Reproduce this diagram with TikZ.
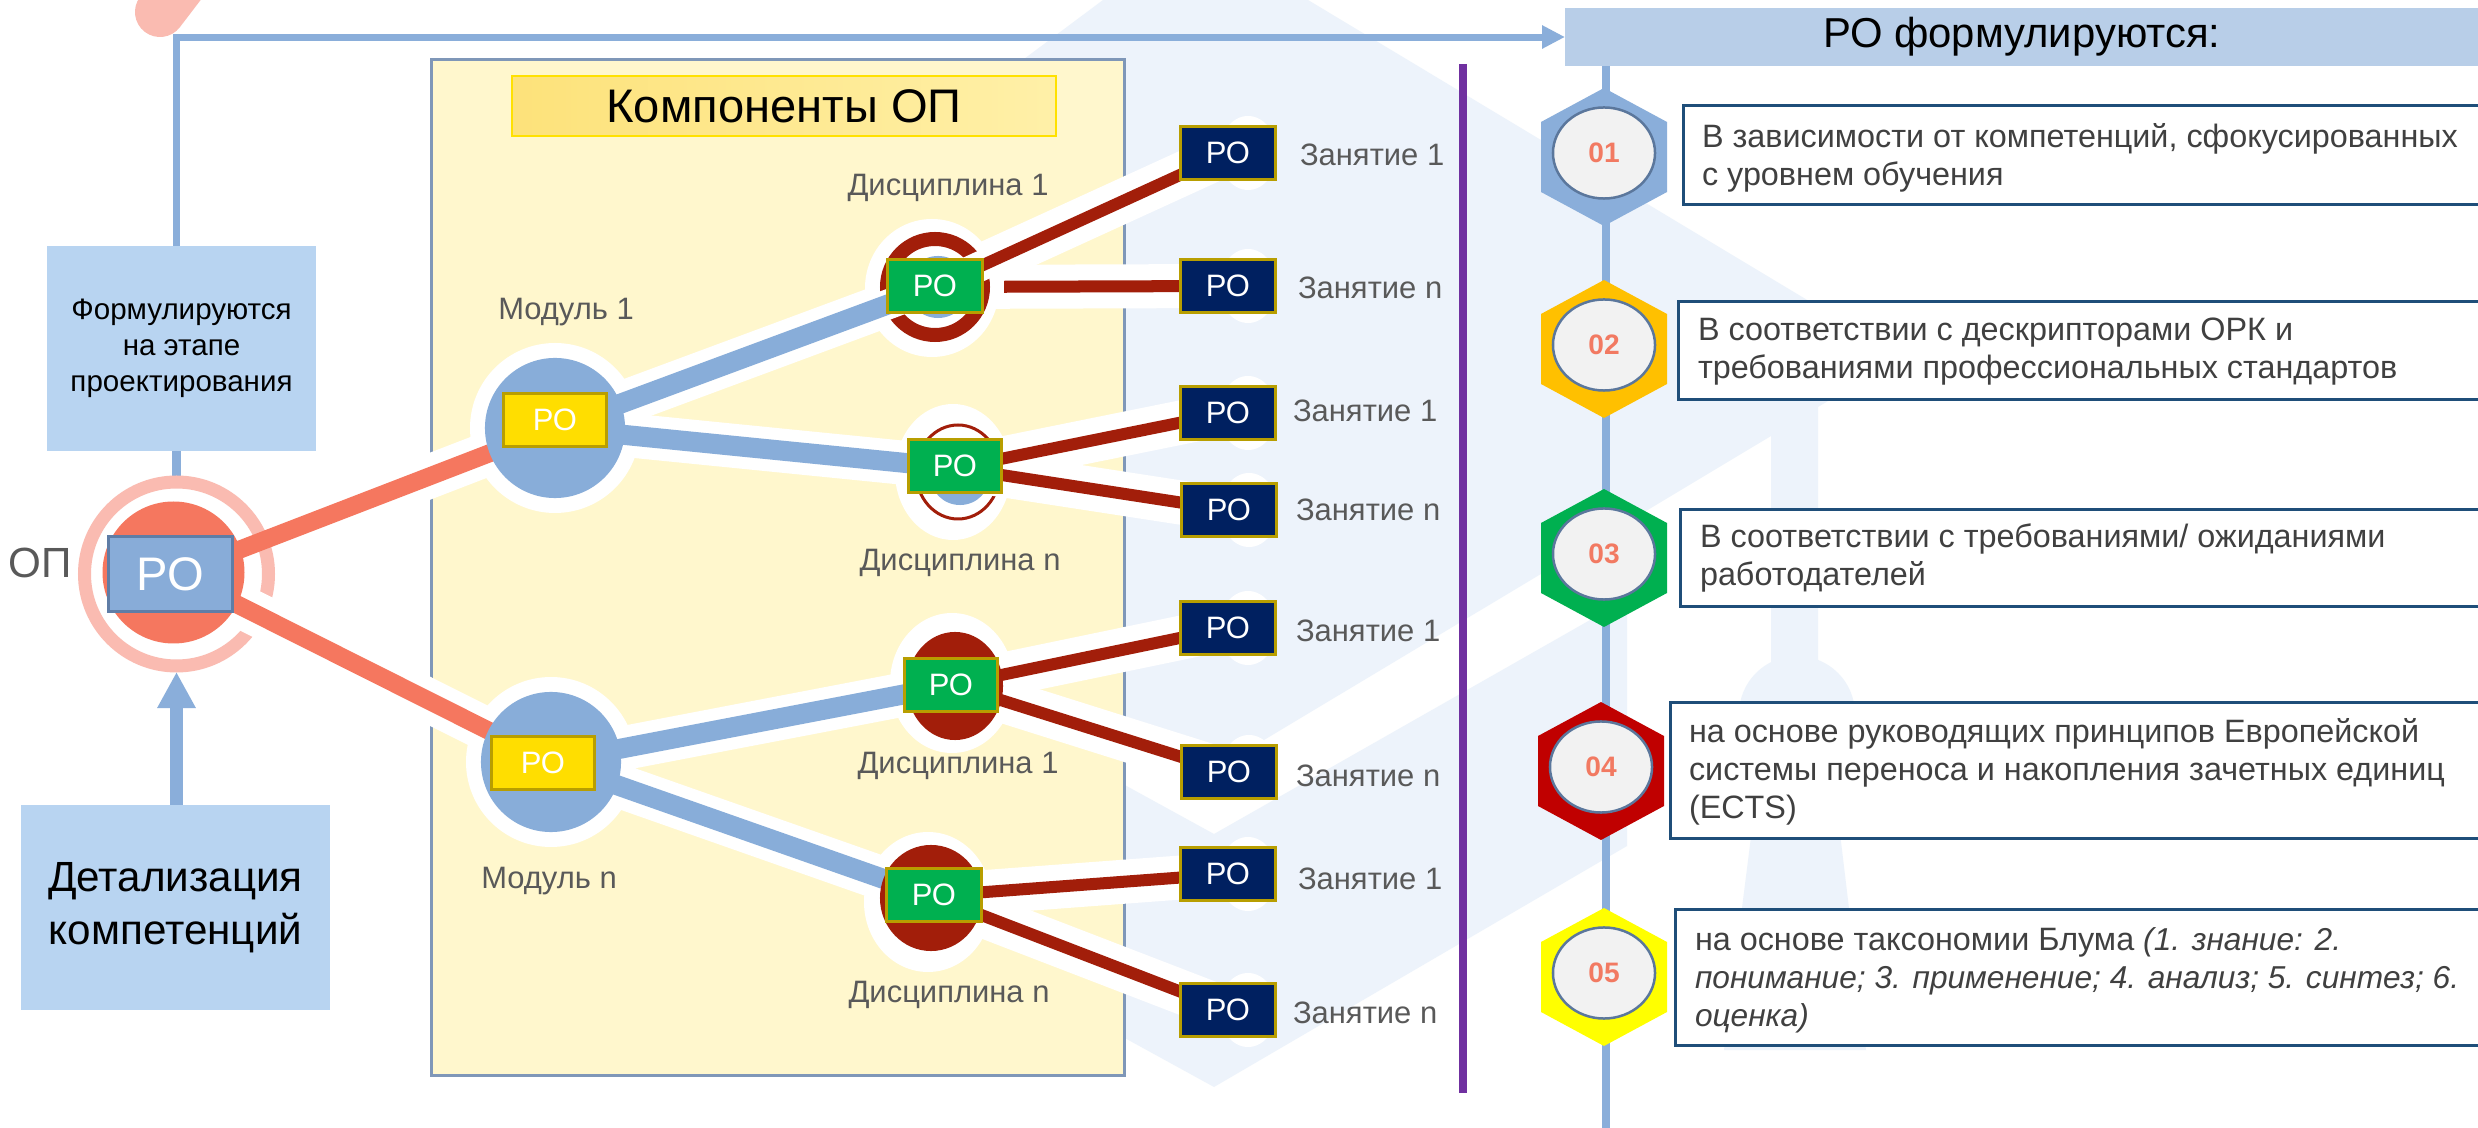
\documentclass[tikz,border=0pt]{standalone}
\usepackage{fontspec}
\setmainfont{Liberation Sans}
\usetikzlibrary{arrows.meta,shapes.geometric}
\definecolor{wm}{HTML}{EDF3FB}
\definecolor{lineblue}{HTML}{8AAEDA}
\definecolor{boxblue}{HTML}{B8D4F1}
\definecolor{hdrblue}{HTML}{B8CEE8}
\definecolor{salmon}{HTML}{F5775F}
\definecolor{pinkring}{HTML}{FABBB1}
\definecolor{modblue}{HTML}{88ADD9}
\definecolor{opbox}{HTML}{88ACD8}
\definecolor{opboxb}{HTML}{5F7DA6}
\definecolor{ylw}{HTML}{FFDE00}
\definecolor{gold}{HTML}{B89E00}
\definecolor{grn}{HTML}{00B050}
\definecolor{navy}{HTML}{002060}
\definecolor{dred}{HTML}{A21E0A}
\definecolor{contfill}{HTML}{FFF7CD}
\definecolor{contborder}{HTML}{7F97B8}
\definecolor{ttlA}{HTML}{FDE27A}
\definecolor{ttlB}{HTML}{FFF0A8}
\definecolor{ttlborder}{HTML}{FFE100}
\definecolor{purp}{HTML}{7030A0}
\definecolor{lbltext}{HTML}{595959}
\definecolor{txt}{HTML}{404040}
\definecolor{rbord}{HTML}{1F4E79}
\definecolor{circb}{HTML}{5B779C}
\definecolor{cfill}{HTML}{F2F2F2}
\definecolor{numcol}{HTML}{F27A62}
\definecolor{hexA}{HTML}{8AAEDA}
\definecolor{hexB}{HTML}{FFC000}
\definecolor{hexC}{HTML}{00B050}
\definecolor{hexD}{HTML}{C00000}
\definecolor{hexE}{HTML}{FFFF00}
\newcommand{\fsz}[2]{\fontsize{#1}{#2}\selectfont}
\newcommand{\hexshape}[2]{\fill[#2] (#1) ++(0,-69) -- ++(63,34) -- ++(0,70) -- ++(-63,34) -- ++(-63,-34) -- ++(0,-70) -- cycle;}
\newcommand{\itsmall}[1]{{\fsz{9.0pt}{10.8pt}\itshape #1}}
\begin{document}
\begin{tikzpicture}[x=0.01cm,y=-0.01cm,
  every node/.style={inner sep=0pt,outer sep=0pt},
  casing/.style={white,line width=0.44cm},
  narrowcasing/.style={white,line width=0.30cm},
  salline/.style={salmon,line width=0.18cm},
  blueline/.style={modblue,line width=0.20cm},
  redline/.style={dred,line width=0.12cm},
  robox/.style={draw=gold,line width=0.03cm,text=white,font=\fsz{8.8pt}{10pt},minimum width=0.94cm,minimum height=0.53cm},
  zbox/.style={robox,fill=navy},
  gbox/.style={robox,fill=grn,minimum height=0.52cm},
  ybox/.style={robox,fill=ylw,minimum width=1.02cm,minimum height=0.52cm},
  lbl/.style={text=lbltext,font=\fsz{8.8pt}{10pt}},
  zlbl/.style={lbl,anchor=west},
  rtxt/.style={text=txt,font=\fsz{9.2pt}{10.8pt},align=left,anchor=west},
  rbox/.style={draw=rbord,line width=0.03cm,fill=white,anchor=north west},
  numcirc/.style={ellipse,fill=cfill,draw=circb,line width=0.025cm,minimum width=1.02cm,minimum height=0.91cm,text=numcol,font=\bfseries\fsz{8pt}{9pt}},
  flow/.style={lineblue,line width=0.08cm}
]
\useasboundingbox (0,0) rectangle (2478,1128);
\fill[white] (0,0) rectangle (2478,1128);
% watermark
\fill[wm] (1103,0) -- (1308,0) -- (1902,357) -- (1818,407) -- (1818,690) -- (1771,690) -- (1771,436) -- (1214,770) -- (1050,680) -- (1050,75) -- (1020,62) -- cycle;
\fill[wm] (1797,714) circle[radius=58];
\fill[wm] (1762,750) -- (1830,750) -- (1866,1050) -- (1724,1050) -- cycle;
\fill[wm] (1050,744) -- (1214,834) -- (1627,599) -- (1627,846) -- (1214,1087) -- (1050,997) -- cycle;

% coordinates
\coordinate (opc) at (176.5,574);
\coordinate (optop) at (176.5,476);
\coordinate (opbot) at (176.5,672);
\coordinate (m1) at (555,428);
\coordinate (mn) at (551,762);
\coordinate (d11) at (935,287);
\coordinate (d1n) at (956,468);
\coordinate (dn1) at (953,685);
\coordinate (dnn) at (932,896);
\coordinate (z1) at (1228,153);
\coordinate (z2) at (1228,286);
\coordinate (z3) at (1228,413);
\coordinate (z4) at (1229,510);
\coordinate (z5) at (1228,628);
\coordinate (z6) at (1229,772);
\coordinate (z7) at (1228,874);
\coordinate (z8) at (1228,1010);

% container and title
\node[fill=contfill,draw=contborder,line width=0.03cm,minimum width=6.92cm,minimum height=10.15cm] (cont) at (778,567.5) {};
\node[draw=ttlborder,line width=0.02cm,left color=ttlA,right color=ttlB,minimum width=5.44cm,minimum height=0.60cm,font=\fsz{13.4pt}{16pt}] (ttl) at (784,106) {Компоненты ОП};

% top-left pink shape
\draw[pinkring,line width=0.5cm,line cap=round] (160,12) -- (215,-60);

% left boxes
\node[fill=boxblue,minimum width=2.69cm,minimum height=2.05cm,align=center,font=\fsz{8.4pt}{10.2pt}] (form) at (181.5,348.5) {Формулируются\\на этапе\\проектирования};
\node[fill=boxblue,minimum width=3.09cm,minimum height=2.05cm,align=center,font=\fsz{12pt}{15.1pt}] (det) at (175.5,907.5) {Детализация\\компетенций};

% header
\node[fill=hdrblue,minimum width=9.13cm,minimum height=0.58cm,anchor=north west,font=\fsz{11.9pt}{14pt}] (hdr) at (1565,8) {РО формулируются:};

% flow connectors
\draw[lineblue,line width=0.07cm,-{Triangle[length=0.23cm,width=0.22cm]}] (form.north -| opc) |- (hdr.west);
\draw[flow] (form.south -| opc) -- (optop);
\draw[lineblue,line width=0.12cm,-{Triangle[length=0.36cm,width=0.36cm]}] (det.north -| opc) -- (opbot);

% purple divider
\coordinate (pt) at (1463,64);
\coordinate (pb) at (1463,1093);
\draw[purp,line width=0.075cm] (pt) -- (pb);

% right column
\coordinate (vbot) at (1606,1140);
\draw[lineblue,line width=0.08cm] (hdr.south -| vbot) -- (vbot);
\coordinate (h1) at (1604,157);
\coordinate (h2) at (1604,349);
\coordinate (h3) at (1604,558);
\coordinate (h4) at (1601,771);
\coordinate (h5) at (1604,977);
\hexshape{h1}{hexA}
\hexshape{h2}{hexB}
\hexshape{h3}{hexC}
\hexshape{h4}{hexD}
\hexshape{h5}{hexE}
\node[numcirc] (c1) at (1604,153) {01};
\node[numcirc] (c2) at (1604,345) {02};
\node[numcirc] (c3) at (1604,554) {03};
\node[numcirc] (c4) at (1601,767) {04};
\node[numcirc] (c5) at (1604,973) {05};

\node[rbox,minimum width=8.07cm,minimum height=0.98cm] (b1) at (1683,106) {};
\node[rbox,minimum width=8.12cm,minimum height=0.97cm] (b2) at (1678,302) {};
\node[rbox,minimum width=8.10cm,minimum height=0.96cm] (b3) at (1680,510) {};
\node[rbox,minimum width=8.20cm,minimum height=1.35cm] (b4) at (1670,703) {};
\node[rbox,minimum width=8.15cm,minimum height=1.35cm] (b5) at (1675,910) {};
\node[rtxt] (t1) at (1702,158) {В зависимости от компетенций, сфокусированных\\с уровнем обучения};
\node[rtxt] (t2) at (1698,352) {В соответствии с дескрипторами ОРК и\\требованиями профессиональных стандартов};
\node[rtxt] (t3) at (1700,558) {В соответствии с требованиями/ ожиданиями\\работодателей};
\node[rtxt] (t4) at (1689,772) {на основе руководящих принципов Европейской\\системы переноса и накопления зачетных единиц\\(ECTS)};
\node[rtxt] (t5) at (1695,980) {на основе таксономии Блума \itsmall{(1. знание: 2.}\\\itsmall{понимание; 3. применение; 4. анализ; 5. синтез; 6.}\\\itsmall{оценка)}};

% halos
\foreach \z in {z1,z2,z3,z4,z5,z6,z7,z8}{\fill[white] ([xshift=0.20cm]\z) ellipse[x radius=29,y radius=37];}
\fill[white] (m1) circle[radius=85];
\fill[white] (mn) circle[radius=85];
\fill[white] (932,288) ellipse[x radius=67,y radius=69];
\fill[white] (953,472) ellipse[x radius=58,y radius=68];
\fill[white] (952,683) ellipse[x radius=62,y radius=70];
\fill[white] (928,902) ellipse[x radius=64,y radius=70];

% casing of upper OP line, then ring
\draw[casing] (opc) -- (m1);
\draw[pinkring,line width=0.13cm] (opc) circle[radius=92];
\draw[dred,line width=0.03cm] (958,472) ellipse[x radius=42,y radius=47];

% wide casings
\draw[casing] (opc) -- (mn);
\draw[casing] (m1) -- (d11);
\draw[casing] (m1) -- (d1n);
\draw[casing] (mn) -- (dn1);
\draw[casing] (mn) -- (dnn);
\draw[casing] (d11) -- (z1);
\draw[casing] (d11) -- (z2);
\draw[casing] (d1n) -- (z3);
\draw[casing] (d1n) -- (z4);
\draw[casing] (dn1) -- (z5);
\draw[casing] (dn1) -- (z6);
\draw[casing] (dnn) -- (z7);
\draw[casing] (dnn) -- (z8);

% ring of discipline 1 and narrow casings
\draw[dred,line width=0.14cm] (d11) circle[radius=48];
\draw[narrowcasing] (m1) -- (d11);
\draw[narrowcasing] (d11) -- (z1);

% coloured connectors
\draw[salline] (opc) -- (m1);
\draw[salline] (opc) -- (mn);
\draw[blueline] (m1) -- (d11);
\draw[blueline] (m1) -- (d1n);
\draw[blueline] (mn) -- (dn1);
\draw[blueline] (mn) -- (dnn);
\draw[redline] (d11) -- (z1);
\draw[redline,shorten <=0.69cm] (d11) -- (z2);
\draw[redline] (d1n) -- (z3);
\draw[redline] (d1n) -- (z4);
\draw[redline] (dn1) -- (z5);
\draw[redline] (dn1) -- (z6);
\draw[redline] (dnn) -- (z7);
\draw[redline] (dnn) -- (z8);

% circles
\fill[salmon] (173.5,572.5) circle[radius=71];
\node[circle,fill=modblue,minimum size=1.40cm] (m1c) at (m1) {};
\node[circle,fill=modblue,minimum size=1.40cm] (mnc) at (mn) {};
\node[circle,fill=modblue,minimum size=0.62cm] (d11c) at (938,287) {};
\node[circle,fill=modblue,minimum size=0.60cm] (d1nc) at (960,475) {};
\node[ellipse,fill=dred,minimum width=0.96cm,minimum height=1.08cm] (dn1c) at (955,686) {};
\node[ellipse,fill=dred,minimum width=1.02cm,minimum height=1.06cm] (dnnc) at (931,898) {};
\fill[dred] (1251,645) circle[radius=11];

% boxes
\node[draw=opboxb,line width=0.03cm,fill=opbox,minimum width=1.23cm,minimum height=0.74cm,text=white,font=\fsz{13.4pt}{16pt}] (opb) at (170.5,574) {РО};
\node[ybox] (y1) at (555,420) {РО};
\node[ybox] (y2) at (543,763) {РО};
\node[gbox,minimum width=0.95cm] (g1) at (935,286) {РО};
\node[gbox,minimum width=0.93cm] (g2) at (955,466) {РО};
\node[gbox,minimum width=0.93cm] (g3) at (951,685) {РО};
\node[gbox,minimum width=0.94cm] (g4) at (934,895) {РО};
\node[zbox] (zb1) at (z1) {РО};
\node[zbox] (zb2) at (z2) {РО};
\node[zbox] (zb3) at (z3) {РО};
\node[zbox] (zb4) at (z4) {РО};
\node[zbox] (zb5) at (z5) {РО};
\node[zbox] (zb6) at (z6) {РО};
\node[zbox] (zb7) at (z7) {РО};
\node[zbox] (zb8) at (z8) {РО};

% labels
\node[anchor=east,text=lbltext,font=\fsz{12pt}{14pt}] (opl) at (72,563) {ОП};
\node[lbl] (lm1) at (566,312) {Модуль 1};
\node[lbl] (lmn) at (549,881) {Модуль n};
\node[lbl] (ld11) at (948,188) {Дисциплина 1};
\node[lbl] (ld1n) at (960,563) {Дисциплина n};
\node[lbl] (ldn1) at (958,766) {Дисциплина 1};
\node[lbl] (ldnn) at (949,995) {Дисциплина n};
\node[zlbl] (lz1) at (1300,155) {Занятие 1};
\node[zlbl] (lz2) at (1298,288) {Занятие n};
\node[zlbl] (lz3) at (1293,411) {Занятие 1};
\node[zlbl] (lz4) at (1296,510) {Занятие n};
\node[zlbl] (lz5) at (1296,631) {Занятие 1};
\node[zlbl] (lz6) at (1296,776) {Занятие n};
\node[zlbl] (lz7) at (1298,879) {Занятие 1};
\node[zlbl] (lz8) at (1293,1013) {Занятие n};
\end{tikzpicture}
\end{document}
